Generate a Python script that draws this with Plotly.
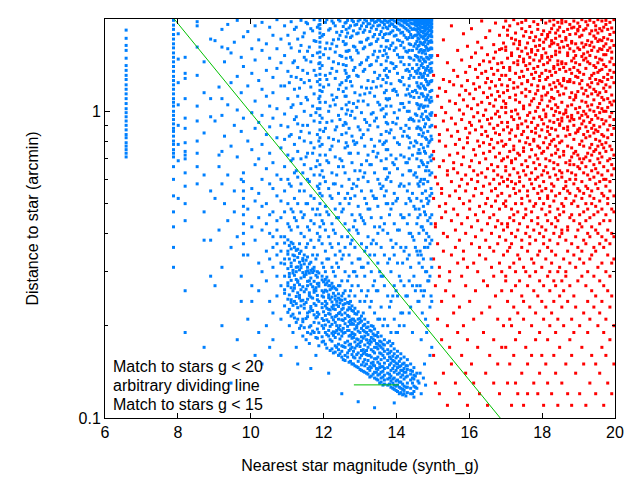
import plotly.graph_objects as go

# stars g < 20 (red): nearest-star magnitude -> distances (arcmin), column by column
red_cols = [
    (15.02, [1.31, 0.74, 0.7, 0.52, 0.33, 0.16]),
    (15.07, [0.97, 0.89, 0.61, 0.43, 0.42, 0.27, 0.13]),
    (15.13, [1.52, 1.12, 0.58, 0.37, 0.21]),
    (15.18, [1.19, 0.84, 0.8, 0.66, 0.49, 0.31, 0.29, 0.12]),
    (15.24, [1.03, 0.56, 0.54, 0.45, 0.24, 0.18]),
    (15.29, [1.71, 1.27, 0.93, 0.69, 0.4, 0.35, 0.14]),
    (15.35, [1.16, 0.99, 0.77, 0.5, 0.47, 0.26]),
    (15.4, [1.44, 0.87, 0.64, 0.62, 0.39, 0.2, 0.11]),
    (15.46, [1.25, 1.08, 0.72, 0.53, 0.3, 0.28, 0.17]),
    (15.51, [1.9, 0.95, 0.83, 0.59, 0.44, 0.34, 0.15]),
    (15.57, [1.36, 1.22, 0.68, 0.65, 0.48, 0.25, 0.22]),
    (15.62, [1.06, 0.91, 0.78, 0.55, 0.41, 0.36, 0.13]),
    (15.68, [1.58, 1.3, 0.86, 0.73, 0.63, 0.46, 0.32, 0.19]),
    (15.73, [1.13, 1.01, 0.81, 0.57, 0.52, 0.38, 0.23, 0.12]),
    (15.79, [1.47, 1.21, 0.94, 0.67, 0.6, 0.43, 0.29, 0.16]),
    (15.84, [1.79, 1.09, 0.98, 0.76, 0.71, 0.5, 0.35, 0.33, 0.2]),
    (15.9, [1.34, 1.17, 0.88, 0.62, 0.55, 0.4, 0.27, 0.14]),
    (15.95, [1.63, 1.26, 1.04, 0.82, 0.79, 0.58, 0.45, 0.31, 0.18, 0.11]),
    (16.01, [1.4, 1.14, 0.92, 0.85, 0.66, 0.51, 0.48, 0.24]),
    (16.06, [1.86, 1.5, 1.02, 0.9, 0.69, 0.6, 0.42, 0.37, 0.15]),
    (16.12, [1.23, 1.1, 0.96, 0.75, 0.64, 0.53, 0.32, 0.21, 0.13]),
    (16.17, [1.55, 1.37, 1.18, 0.87, 0.72, 0.56, 0.46, 0.39, 0.26]),
    (16.23, [1.68, 1.29, 1.05, 0.99, 0.8, 0.62, 0.59, 0.44, 0.3, 0.17]),
    (16.28, [1.42, 1.2, 0.93, 0.77, 0.68, 0.49, 0.36, 0.34, 0.12]),
    (16.34, [1.97, 1.61, 1.33, 1.07, 0.89, 0.84, 0.63, 0.54, 0.41, 0.22]),
    (16.39, [1.46, 1.15, 0.97, 0.79, 0.73, 0.57, 0.47, 0.28, 0.19]),
    (16.45, [1.74, 1.35, 1.24, 1.01, 0.86, 0.7, 0.61, 0.5, 0.38, 0.33, 0.14]),
    (16.5, [1.53, 1.28, 1.11, 0.94, 0.83, 0.65, 0.52, 0.43, 0.27, 0.11]),
    (16.56, [1.83, 1.45, 1.19, 1.06, 0.91, 0.78, 0.74, 0.58, 0.45, 0.36, 0.23, 0.16]),
    (16.61, [1.38, 1.25, 1.13, 0.95, 0.81, 0.67, 0.55, 0.49, 0.4, 0.31]),
    (16.67, [1.65, 1.49, 1.32, 1.04, 0.88, 0.76, 0.64, 0.6, 0.46, 0.35, 0.29, 0.18, 0.13]),
    (16.72, [1.94, 1.56, 1.21, 1.09, 0.98, 0.85, 0.71, 0.56, 0.51, 0.42, 0.25]),
    (16.78, [1.43, 1.36, 1.16, 1.0, 0.9, 0.79, 0.66, 0.62, 0.53, 0.44, 0.37, 0.21, 0.15]),
    (16.83, [1.77, 1.59, 1.27, 1.12, 0.96, 0.84, 0.73, 0.58, 0.48, 0.39, 0.32, 0.12]),
    (16.89, [1.6, 1.44, 1.31, 1.22, 1.03, 0.92, 0.8, 0.69, 0.61, 0.54, 0.43, 0.3, 0.26, 0.17]),
    (16.94, [1.88, 1.67, 1.39, 1.15, 1.08, 0.87, 0.77, 0.7, 0.59, 0.5, 0.41, 0.34, 0.2]),
    (17.0, [1.97, 1.62, 1.58, 1.31, 1.06, 1.03, 0.99, 0.78, 0.66, 0.64, 0.51, 0.49, 0.38, 0.29, 0.28, 0.17]),
    (17.05, [1.84, 1.77, 1.49, 1.21, 1.17, 0.92, 0.89, 0.71, 0.6, 0.57, 0.43, 0.42, 0.35, 0.24, 0.13]),
    (17.11, [1.9, 1.39, 1.36, 1.27, 1.11, 0.85, 0.81, 0.74, 0.62, 0.53, 0.45, 0.36, 0.31, 0.21, 0.15]),
    (17.16, [1.73, 1.55, 1.52, 1.0, 0.96, 0.87, 0.69, 0.68, 0.59, 0.48, 0.4, 0.37, 0.26, 0.2, 0.11]),
    (17.22, [1.99, 1.66, 1.44, 1.24, 1.19, 0.94, 0.77, 0.75, 0.65, 0.56, 0.46, 0.44, 0.32, 0.23, 0.16]),
    (17.27, [1.8, 1.71, 1.33, 1.13, 1.09, 1.01, 0.83, 0.7, 0.58, 0.54, 0.5, 0.39, 0.3, 0.27, 0.18, 0.13]),
    (17.33, [1.93, 1.6, 1.46, 1.42, 1.2, 0.98, 0.9, 0.88, 0.73, 0.63, 0.47, 0.41, 0.34, 0.22, 0.12]),
    (17.38, [1.69, 1.65, 1.51, 1.29, 1.07, 0.95, 0.8, 0.72, 0.61, 0.59, 0.55, 0.43, 0.33, 0.28, 0.19]),
    (17.44, [1.95, 1.86, 1.57, 1.35, 1.23, 1.15, 0.91, 0.84, 0.67, 0.52, 0.5, 0.38, 0.36, 0.25, 0.14]),
    (17.49, [1.76, 1.48, 1.45, 1.3, 1.04, 1.02, 0.86, 0.76, 0.74, 0.64, 0.57, 0.45, 0.31, 0.24, 0.21, 0.11]),
    (17.55, [1.98, 1.82, 1.61, 1.41, 1.18, 1.12, 0.93, 0.79, 0.69, 0.62, 0.48, 0.46, 0.4, 0.3, 0.17]),
    (17.6, [1.67, 1.54, 1.37, 1.26, 1.25, 0.97, 0.89, 0.82, 0.66, 0.55, 0.53, 0.42, 0.35, 0.27, 0.15, 0.12]),
    (17.66, [1.89, 1.74, 1.5, 1.43, 1.16, 1.05, 0.99, 0.78, 0.71, 0.6, 0.51, 0.39, 0.37, 0.29, 0.23]),
    (17.71, [1.81, 1.59, 1.56, 1.32, 1.22, 1.08, 0.92, 0.86, 0.75, 0.63, 0.58, 0.47, 0.44, 0.33, 0.2, 0.16]),
    (17.77, [1.96, 1.7, 1.47, 1.38, 1.28, 1.1, 0.95, 0.81, 0.8, 0.68, 0.56, 0.49, 0.41, 0.32, 0.26, 0.13]),
    (17.82, [1.75, 1.63, 1.53, 1.34, 1.14, 1.0, 0.88, 0.85, 0.72, 0.65, 0.6, 0.5, 0.38, 0.3, 0.22, 0.18]),
    (17.88, [1.92, 1.85, 1.58, 1.4, 1.21, 1.17, 1.03, 0.9, 0.77, 0.7, 0.61, 0.54, 0.45, 0.43, 0.34, 0.25, 0.12]),
    (17.93, [1.71, 1.64, 1.46, 1.3, 1.26, 1.06, 0.96, 0.83, 0.76, 0.67, 0.57, 0.52, 0.4, 0.35, 0.28, 0.19, 0.14]),
    (17.99, [1.99, 1.78, 1.52, 1.49, 1.33, 1.12, 1.09, 0.94, 0.87, 0.73, 0.62, 0.55, 0.48, 0.42, 0.31, 0.24, 0.16]),
    (18.04, [1.83, 1.68, 1.6, 1.42, 1.2, 1.19, 1.01, 0.91, 0.79, 0.74, 0.64, 0.59, 0.5, 0.39, 0.37, 0.27, 0.21, 0.11]),
    (18.1, [1.94, 1.72, 1.55, 1.36, 1.27, 1.13, 0.98, 0.96, 0.82, 0.7, 0.66, 0.56, 0.46, 0.41, 0.33, 0.23, 0.15]),
    (18.15, [1.78, 1.75, 1.5, 1.44, 1.29, 1.15, 1.04, 0.89, 0.86, 0.76, 0.63, 0.53, 0.52, 0.44, 0.36, 0.29, 0.18, 0.13]),
    (18.21, [1.97, 1.81, 1.63, 1.47, 1.35, 1.22, 1.08, 0.93, 0.84, 0.78, 0.69, 0.61, 0.49, 0.47, 0.38, 0.3, 0.26, 0.2]),
    (18.26, [1.86, 1.7, 1.66, 1.51, 1.31, 1.18, 1.11, 1.02, 0.88, 0.8, 0.72, 0.58, 0.55, 0.43, 0.35, 0.32, 0.22, 0.12]),
    (18.32, [1.99, 1.91, 1.67, 1.4, 1.38, 1.24, 1.1, 0.97, 0.92, 0.81, 0.68, 0.65, 0.57, 0.51, 0.4, 0.28, 0.24, 0.16]),
    (18.37, [1.8, 1.73, 1.57, 1.53, 1.34, 1.2, 1.05, 1.0, 0.87, 0.77, 0.73, 0.62, 0.53, 0.45, 0.42, 0.34, 0.27, 0.19, 0.14]),
    (18.43, [1.95, 1.84, 1.65, 1.46, 1.42, 1.26, 1.16, 1.03, 0.94, 0.83, 0.75, 0.67, 0.6, 0.48, 0.44, 0.37, 0.3, 0.21, 0.11]),
    (18.48, [1.88, 1.76, 1.61, 1.56, 1.37, 1.23, 1.13, 0.99, 0.91, 0.9, 0.79, 0.71, 0.64, 0.54, 0.46, 0.39, 0.31, 0.25, 0.17]),
    (18.54, [1.98, 1.94, 1.69, 1.45, 1.43, 1.21, 1.07, 0.95, 0.93, 0.8, 0.63, 0.61, 0.5, 0.41, 0.4, 0.28, 0.23, 0.13]),
    (18.59, [1.82, 1.62, 1.39, 1.28, 1.26, 1.14, 0.98, 0.88, 0.74, 0.72, 0.56, 0.49, 0.47, 0.33, 0.26, 0.2]),
    (18.65, [1.96, 1.74, 1.71, 1.43, 1.35, 1.19, 1.01, 0.99, 0.83, 0.68, 0.59, 0.57, 0.52, 0.38, 0.3, 0.29, 0.15]),
    (18.7, [1.85, 1.64, 1.55, 1.52, 1.25, 1.04, 0.96, 0.89, 0.87, 0.77, 0.64, 0.55, 0.42, 0.41, 0.35, 0.24, 0.12]),
    (18.76, [1.92, 1.78, 1.6, 1.37, 1.27, 1.25, 1.11, 0.93, 0.84, 0.69, 0.67, 0.6, 0.54, 0.45, 0.32, 0.27, 0.18]),
    (18.81, [1.87, 1.69, 1.67, 1.46, 1.33, 1.15, 1.05, 0.97, 0.95, 0.76, 0.71, 0.63, 0.5, 0.46, 0.37, 0.21, 0.16, 0.11]),
    (18.87, [1.97, 1.88, 1.57, 1.49, 1.39, 1.24, 1.09, 0.94, 0.9, 0.81, 0.73, 0.67, 0.58, 0.51, 0.44, 0.34, 0.25, 0.19]),
    (18.92, [1.79, 1.66, 1.52, 1.44, 1.3, 1.13, 1.11, 1.02, 0.85, 0.74, 0.62, 0.6, 0.53, 0.39, 0.31, 0.23, 0.14]),
    (18.98, [1.94, 1.85, 1.83, 1.61, 1.36, 1.29, 1.16, 0.99, 0.87, 0.86, 0.72, 0.66, 0.56, 0.49, 0.41, 0.36, 0.28]),
    (19.03, [1.89, 1.75, 1.59, 1.42, 1.34, 1.23, 1.03, 0.95, 0.88, 0.78, 0.7, 0.65, 0.55, 0.46, 0.43, 0.33, 0.2, 0.12]),
    (19.09, [1.99, 1.77, 1.67, 1.51, 1.26, 1.19, 1.08, 0.97, 0.91, 0.8, 0.68, 0.59, 0.52, 0.42, 0.35, 0.29, 0.17]),
    (19.14, [1.84, 1.62, 1.54, 1.47, 1.32, 1.14, 1.0, 0.93, 0.84, 0.77, 0.7, 0.63, 0.54, 0.47, 0.38, 0.32, 0.22, 0.15]),
    (19.2, [1.96, 1.86, 1.65, 1.49, 1.38, 1.17, 1.07, 0.98, 0.89, 0.82, 0.71, 0.66, 0.57, 0.5, 0.44, 0.37, 0.27, 0.11]),
    (19.25, [1.91, 1.7, 1.56, 1.45, 1.22, 1.12, 1.04, 0.96, 0.86, 0.73, 0.62, 0.56, 0.48, 0.4, 0.3, 0.24, 0.19]),
    (19.31, [1.98, 1.79, 1.64, 1.52, 1.43, 1.28, 1.2, 1.01, 0.92, 0.83, 0.76, 0.69, 0.6, 0.53, 0.45, 0.39, 0.33, 0.21, 0.13]),
    (19.36, [1.83, 1.68, 1.58, 1.31, 1.24, 1.14, 1.05, 0.94, 0.88, 0.78, 0.72, 0.64, 0.55, 0.5, 0.42, 0.34, 0.26, 0.16]),
    (19.42, [1.95, 1.76, 1.62, 1.41, 1.33, 1.18, 1.09, 1.0, 0.9, 0.85, 0.74, 0.67, 0.61, 0.52, 0.46, 0.36, 0.29, 0.23]),
    (19.47, [1.9, 1.84, 1.73, 1.5, 1.39, 1.27, 1.16, 0.97, 0.87, 0.81, 0.75, 0.65, 0.58, 0.49, 0.41, 0.35, 0.25, 0.15, 0.12]),
    (19.53, [1.99, 1.8, 1.69, 1.57, 1.44, 1.34, 1.23, 1.13, 1.03, 0.95, 0.86, 0.77, 0.7, 0.63, 0.56, 0.47, 0.4, 0.31, 0.2]),
    (19.58, [1.86, 1.71, 1.6, 1.48, 1.36, 1.26, 1.15, 1.06, 0.99, 0.89, 0.8, 0.73, 0.68, 0.59, 0.51, 0.43, 0.37, 0.28, 0.22, 0.14]),
    (19.64, [1.97, 1.83, 1.7, 1.59, 1.47, 1.37, 1.25, 1.11, 1.02, 0.94, 0.84, 0.78, 0.71, 0.62, 0.54, 0.48, 0.39, 0.32, 0.24, 0.17]),
    (19.69, [1.88, 1.74, 1.63, 1.53, 1.42, 1.29, 1.19, 1.09, 1.0, 0.91, 0.83, 0.76, 0.66, 0.6, 0.53, 0.44, 0.36, 0.27, 0.19, 0.11]),
    (19.75, [1.98, 1.92, 1.66, 1.53, 1.4, 1.22, 1.16, 1.0, 0.93, 0.79, 0.74, 0.6, 0.57, 0.46, 0.38, 0.3, 0.21, 0.16]),
    (19.8, [1.85, 1.72, 1.58, 1.32, 1.27, 1.1, 1.03, 0.87, 0.82, 0.69, 0.64, 0.52, 0.5, 0.41, 0.34, 0.26, 0.13]),
    (19.86, [1.95, 1.78, 1.61, 1.45, 1.36, 1.2, 1.07, 0.96, 0.9, 0.77, 0.7, 0.59, 0.55, 0.44, 0.37, 0.29, 0.23, 0.18]),
    (19.91, [1.87, 1.7, 1.56, 1.49, 1.29, 1.13, 1.05, 0.99, 0.84, 0.75, 0.67, 0.62, 0.48, 0.4, 0.32, 0.25, 0.12]),
    (19.97, [1.99, 1.81, 1.64, 1.42, 1.34, 1.24, 1.08, 0.94, 0.88, 0.72, 0.65, 0.53, 0.47, 0.39, 0.33, 0.2, 0.15]),
]

# stars g < 15 (blue): streaks and the spread above the diagonal band
blue_upper_cols = [
    (6.58, [0.71, 0.73, 0.75, 0.77, 0.79, 0.82, 0.84, 0.87, 0.9, 0.93, 0.96, 0.99, 1.02, 1.06, 1.1, 1.14,
            1.18, 1.22, 1.27, 1.31, 1.36, 1.41, 1.49, 1.58, 1.64, 1.73, 1.84]),
    (7.88, [0.31, 0.36, 0.42, 0.47, 0.53, 0.6, 0.66, 0.71, 0.73, 0.75, 0.78, 0.8, 0.83, 0.86, 0.88, 0.91,
            0.94, 0.97, 1.0, 1.04, 1.07, 1.1, 1.14, 1.18, 1.22, 1.26, 1.3, 1.35, 1.4, 1.45, 1.5, 1.55,
            1.61, 1.66, 1.72, 1.78, 1.85, 1.91, 1.98]),
    (8.01, [0.52, 0.69, 0.78, 0.9, 1.05, 1.24, 1.48, 1.79]),
    (8.2, [0.19, 0.26, 0.44, 0.5, 0.57, 0.63, 0.7, 0.72, 0.74, 0.79, 0.88, 0.95, 1.1, 1.28, 1.33, 1.5]),
    (8.53, [0.58, 0.66, 0.73, 0.8, 0.93, 1.04, 1.31, 1.62, 1.9, 1.96]),
    (8.72, [0.17, 0.38, 0.47, 0.62, 0.85, 1.15, 1.45]),
    (8.9, [0.29, 0.38, 0.55, 0.96, 1.1, 1.72]),
    (9.02, [1.7, 0.93, 0.52, 0.27]),
    (9.13, [1.2, 0.66, 0.41, 0.72]),
    (9.21, [1.85, 1.62, 1.1, 0.97, 0.74, 0.58, 0.31, 0.2]),
    (9.28, [1.45, 0.83, 0.5]),
    (9.37, [1.92, 1.05, 0.62, 0.44, 1.6]),
    (9.46, [1.55, 1.24, 0.77, 0.36, 0.13]),
    (9.55, [1.68, 0.9, 0.55, 0.47]),
    (9.63, [1.98, 1.3, 1.01, 0.71, 0.39, 0.18]),
    (9.74, [1.5, 1.15, 0.86, 0.6, 0.29, 0.24]),
    (9.8, [1.75, 1.4, 0.95, 0.63, 0.59, 0.55, 0.52, 0.49, 0.46, 0.43, 0.4, 0.37, 0.34]),
    (9.92, [1.82, 1.21, 0.8, 0.48, 0.34, 0.21]),
    (10.03, [1.6, 1.33, 0.99, 0.75, 0.56, 0.42, 0.27, 0.24]),
    (10.12, [1.9, 1.47, 1.08, 0.88, 0.67, 0.51, 0.38, 0.16]),
    (10.22, [1.71, 1.26, 0.92, 0.7, 0.54, 0.45, 0.32, 0.26, 0.19]),
    (10.31, [1.95, 1.58, 1.18, 0.97, 0.78, 0.6, 0.49, 0.41, 0.3, 0.15]),
    (10.43, [1.66, 1.36, 1.12, 0.84, 0.65, 0.5, 0.43, 0.35, 0.28, 0.2]),
    (10.52, [1.88, 1.49, 1.04, 0.89, 0.73, 0.58, 0.46, 0.4, 0.33, 0.24, 0.17]),
    (10.61, [1.77, 1.29, 1.15, 0.95, 0.68, 0.56, 0.47, 0.39, 0.36, 0.31, 0.22, 0.18]),
    (10.72, [1.99, 1.6, 1.38, 1.02, 0.82, 0.62, 0.53, 0.44, 0.41, 0.37, 0.34, 0.29, 0.25]),
    (10.83, [1.72, 1.44, 1.21, 0.9, 0.76, 0.6, 0.51, 0.45, 0.39, 0.35, 0.32, 0.27, 0.21, 0.16]),
    (10.93, [1.9, 1.52, 1.21, 0.98, 0.81, 0.66, 0.55, 0.47]),
    (11.02, [1.77, 1.35, 1.1, 0.89, 0.72, 0.6, 0.5, 0.43]),
    (11.06, [1.66, 1.24, 0.83, 0.58, 0.42]),
    (11.11, [1.96, 1.61, 1.3, 1.03, 0.84, 0.69, 0.57, 0.48, 0.41]),
    (11.16, [1.44, 1.05, 0.7, 0.47]),
    (11.2, [1.85, 1.46, 1.18, 0.94, 0.78, 0.63, 0.52, 0.45]),
    (11.25, [1.88, 1.29, 0.96, 0.64, 0.44]),
    (11.29, [1.72, 1.39, 1.12, 0.91, 0.74, 0.61, 0.5, 0.42]),
    (11.34, [1.57, 1.19, 0.82, 0.55, 0.37]),
    (11.38, [1.98, 1.64, 1.27, 1.06, 0.86, 0.7, 0.58, 0.47, 0.4]),
    (11.43, [1.75, 1.36, 0.9, 0.63, 0.45]),
    (11.47, [1.8, 1.5, 1.24, 1.0, 0.8, 0.67, 0.55, 0.46, 0.39]),
    (11.52, [1.95, 1.47, 1.11, 0.71, 0.5]),
    (11.56, [1.93, 1.57, 1.33, 1.09, 0.9, 0.73, 0.6, 0.5, 0.42, 0.37]),
    (11.61, [1.62, 1.26, 0.85, 0.59, 0.41]),
    (11.65, [1.86, 1.45, 1.2, 0.97, 0.79, 0.65, 0.53, 0.44, 0.38]),
    (11.7, [1.83, 1.52, 1.04, 0.73, 0.48]),
    (11.74, [1.99, 1.7, 1.36, 1.14, 0.93, 0.76, 0.62, 0.52, 0.43, 0.36]),
    (11.79, [1.69, 1.31, 0.99, 0.66, 0.46]),
    (11.83, [1.88, 1.55, 1.25, 1.02, 0.84, 0.69, 0.57, 0.48, 0.4, 0.34]),
    (11.87, [1.91, 1.43, 1.1, 0.8, 0.56, 0.38]),
    (11.9, [1.98, 1.92, 1.86, 1.8, 1.74, 1.68, 1.62, 1.56, 1.5, 1.44, 1.38, 1.32, 1.27, 1.22, 1.17, 1.12,
            1.07, 1.02, 0.97, 0.92, 0.87, 0.82, 0.77, 0.72, 0.67, 0.62, 0.58, 0.54, 0.5, 0.46, 0.42, 0.39]),
    (11.96, [1.76, 1.41, 1.16, 0.95, 0.78, 0.64, 0.53, 0.44, 0.37, 0.32]),
    (12.0, [1.78, 1.53, 1.2, 0.86, 0.61, 0.43]),
    (12.05, [1.95, 1.6, 1.31, 1.07, 0.88, 0.72, 0.59, 0.49, 0.41, 0.35]),
    (12.09, [1.99, 1.67, 1.27, 0.92, 0.69, 0.47, 0.33]),
    (12.14, [1.84, 1.49, 1.22, 1.0, 0.82, 0.68, 0.56, 0.46, 0.39, 0.33]),
    (12.18, [1.86, 1.6, 1.33, 1.04, 0.75, 0.53, 0.37]),
    (12.23, [1.97, 1.66, 1.38, 1.13, 0.93, 0.77, 0.63, 0.52, 0.43, 0.36, 0.31]),
    (12.27, [1.94, 1.71, 1.45, 1.09, 0.81, 0.58, 0.41, 0.3]),
    (12.32, [1.9, 1.56, 1.28, 1.05, 0.87, 0.71, 0.58, 0.48, 0.4, 0.34, 0.29]),
    (12.36, [1.81, 1.63, 1.35, 1.11, 0.89, 0.62, 0.45, 0.32]),
    (12.41, [1.99, 1.72, 1.43, 1.18, 0.97, 0.8, 0.66, 0.54, 0.45, 0.37, 0.31]),
    (12.45, [1.97, 1.77, 1.52, 1.22, 0.94, 0.7, 0.5, 0.35]),
    (12.5, [1.82, 1.51, 1.24, 1.02, 0.84, 0.69, 0.57, 0.47, 0.39, 0.33, 0.28]),
    (12.54, [1.89, 1.69, 1.42, 1.16, 0.9, 0.66, 0.48, 0.34]),
    (12.59, [1.94, 1.65, 1.36, 1.12, 0.92, 0.76, 0.63, 0.52, 0.43, 0.36, 0.3]),
    (12.62, [1.95, 1.85, 1.75, 1.66, 1.57, 1.49, 1.41, 1.33, 1.26, 1.19, 1.12, 1.05, 0.98, 0.91, 0.85, 0.79]),
    (12.66, [1.98, 1.8, 1.57, 1.29, 1.01, 0.77, 0.54, 0.39, 0.28]),
    (12.7, [1.87, 1.58, 1.3, 1.07, 0.88, 0.73, 0.6, 0.5, 0.41, 0.34, 0.29]),
    (12.74, [1.9, 1.74, 1.5, 1.25, 0.97, 0.73, 0.52, 0.37, 0.26]),
    (12.78, [1.98, 1.76, 1.47, 1.21, 1.0, 0.83, 0.68, 0.56, 0.46, 0.38, 0.32, 0.27]),
    (12.82, [1.96, 1.83, 1.63, 1.36, 1.06, 0.8, 0.58, 0.42, 0.3]),
    (12.86, [1.91, 1.62, 1.39, 1.15, 0.95, 0.78, 0.64, 0.53, 0.44, 0.36, 0.3, 0.25]),
    (12.91, [1.92, 1.79, 1.58, 1.31, 1.03, 0.79, 0.57, 0.41, 0.29]),
    (12.95, [1.97, 1.8, 1.55, 1.3, 1.08, 0.89, 0.73, 0.6, 0.49, 0.4, 0.33, 0.27]),
    (13.0, [1.99, 1.86, 1.68, 1.42, 1.13, 0.87, 0.64, 0.46, 0.33]),
    (13.04, [1.9, 1.68, 1.44, 1.2, 0.99, 0.82, 0.67, 0.55, 0.45, 0.37, 0.31, 0.26]),
    (13.09, [1.94, 1.81, 1.6, 1.35, 1.08, 0.84, 0.61, 0.44, 0.31]),
    (13.13, [1.99, 1.84, 1.62, 1.37, 1.14, 0.94, 0.77, 0.63, 0.52, 0.43, 0.35, 0.29, 0.24]),
    (13.18, [1.97, 1.89, 1.71, 1.47, 1.19, 0.92, 0.69, 0.5, 0.36, 0.25]),
    (13.22, [1.93, 1.73, 1.5, 1.26, 1.05, 0.87, 0.72, 0.59, 0.48, 0.39, 0.32, 0.26]),
    (13.27, [1.93, 1.82, 1.65, 1.41, 1.15, 0.9, 0.67, 0.48, 0.34, 0.23]),
    (13.31, [1.98, 1.87, 1.66, 1.42, 1.19, 0.98, 0.81, 0.67, 0.55, 0.45, 0.37, 0.3, 0.24]),
    (13.36, [1.99, 1.9, 1.75, 1.53, 1.25, 0.99, 0.74, 0.53, 0.38, 0.27]),
    (13.4, [1.95, 1.78, 1.57, 1.34, 1.12, 0.93, 0.77, 0.63, 0.52, 0.42, 0.34, 0.28, 0.22]),
    (13.45, [1.96, 1.85, 1.69, 1.46, 1.2, 0.95, 0.71, 0.52, 0.37, 0.26]),
    (13.49, [1.99, 1.9, 1.72, 1.5, 1.28, 1.07, 0.89, 0.73, 0.6, 0.49, 0.4, 0.32, 0.26, 0.21]),
    (13.54, [1.98, 1.91, 1.78, 1.57, 1.31, 1.05, 0.8, 0.58, 0.42, 0.3, 0.21]),
    (13.58, [1.96, 1.82, 1.63, 1.42, 1.21, 1.01, 0.84, 0.69, 0.56, 0.45, 0.36, 0.29, 0.23]),
    (13.63, [1.95, 1.87, 1.74, 1.52, 1.27, 1.02, 0.78, 0.57, 0.41, 0.29, 0.2]),
    (13.67, [1.98, 1.92, 1.78, 1.58, 1.36, 1.15, 0.96, 0.79, 0.65, 0.53, 0.43, 0.34, 0.27, 0.21]),
    (13.72, [1.97, 1.88, 1.79, 1.7, 1.62, 1.54, 1.46, 1.38, 1.31, 1.24, 1.17, 1.1, 1.04, 0.98, 0.92, 0.86,
             0.8, 0.75, 0.7, 0.65, 0.6, 0.55, 0.5]),
    (13.76, [1.95, 1.86, 1.7, 1.5, 1.29, 1.09, 0.91, 0.75, 0.61, 0.5, 0.4, 0.32, 0.25, 0.2]),
    (13.81, [1.97, 1.9, 1.79, 1.6, 1.35, 1.1, 0.85, 0.63, 0.46, 0.33, 0.23]),
    (13.85, [1.99, 1.93, 1.81, 1.64, 1.44, 1.23, 1.04, 0.87, 0.72, 0.59, 0.48, 0.38, 0.3, 0.24, 0.19]),
    (13.9, [1.99, 1.92, 1.83, 1.67, 1.43, 1.17, 0.92, 0.68, 0.5, 0.36, 0.25]),
    (13.94, [1.97, 1.89, 1.76, 1.58, 1.38, 1.18, 0.99, 0.82, 0.67, 0.54, 0.43, 0.34, 0.27, 0.21]),
    (13.99, [1.96, 1.88, 1.77, 1.61, 1.4, 1.16, 0.91, 0.7, 0.51, 0.37, 0.26, 0.19]),
    (14.03, [1.99, 1.94, 1.85, 1.71, 1.53, 1.33, 1.13, 0.95, 0.79, 0.65, 0.52, 0.41, 0.32, 0.25, 0.19]),
    (14.08, [1.99, 1.93, 1.84, 1.7, 1.5, 1.26, 1.01, 0.78, 0.57, 0.41, 0.29, 0.2]),
    (14.12, [1.98, 1.91, 1.8, 1.64, 1.45, 1.25, 1.06, 0.88, 0.72, 0.58, 0.46, 0.36, 0.28, 0.22]),
    (14.17, [1.97, 1.9, 1.81, 1.68, 1.5, 1.29, 1.06, 0.83, 0.62, 0.45, 0.32, 0.22]),
    (14.21, [1.99, 1.95, 1.88, 1.77, 1.61, 1.42, 1.22, 1.03, 0.86, 0.71, 0.57, 0.45, 0.35, 0.27, 0.2]),
    (14.26, [1.98, 1.94, 1.86, 1.74, 1.57, 1.36, 1.13, 0.9, 0.68, 0.5, 0.36, 0.25]),
    (14.3, [1.97, 1.92, 1.84, 1.72, 1.56, 1.37, 1.18, 1.0, 0.83, 0.68, 0.55, 0.43, 0.33, 0.25]),
    (14.35, [1.98, 1.9, 1.82, 1.74, 1.66, 1.58, 1.5, 1.42, 1.35, 1.28, 1.21, 1.14, 1.07, 1.0, 0.94, 0.88,
             0.82, 0.76, 0.7, 0.64, 0.58, 0.52, 0.46, 0.4, 0.34, 0.28, 0.22]),
    (14.39, [1.99, 1.94, 1.87, 1.78, 1.65, 1.49, 1.31, 1.12, 0.95, 0.79, 0.64, 0.51, 0.4, 0.31, 0.23]),
    (14.44, [1.99, 1.93, 1.85, 1.74, 1.58, 1.38, 1.16, 0.94, 0.72, 0.54, 0.39, 0.27, 0.19]),
    (14.48, [1.98, 1.93, 1.86, 1.76, 1.63, 1.47, 1.29, 1.11, 0.93, 0.77, 0.62, 0.49, 0.38, 0.29]),
    (14.52, [1.98, 1.95, 1.91, 1.85, 1.77, 1.66, 1.52, 1.35, 1.17, 0.98, 0.8, 0.63, 0.48, 0.36, 0.26, 0.137, 0.126]),
    (14.56, [1.99, 1.95, 1.9, 1.84, 1.77, 1.69, 1.6, 1.51, 1.42, 1.33, 1.24, 1.15, 1.06, 0.97, 0.88,
             0.79, 0.7, 0.61, 0.52, 0.43, 0.35, 0.27, 0.14, 0.125]),
    (14.59, [1.99, 1.96, 1.92, 1.87, 1.81, 1.73, 1.63, 1.5, 1.36, 1.21, 1.05, 0.89, 0.73, 0.58, 0.45, 0.34, 0.24, 0.132]),
    (14.62, [1.97, 1.92, 1.86, 1.79, 1.72, 1.64, 1.56, 1.47, 1.38, 1.29, 1.2, 1.11, 1.02, 0.93, 0.84,
             0.75, 0.66, 0.57, 0.48, 0.4, 0.32, 0.24, 0.13]),
    (14.65, [1.98, 1.95, 1.9, 1.84, 1.77, 1.68, 1.58, 1.46, 1.33, 1.19, 1.04, 0.88, 0.73, 0.59, 0.46, 0.35, 0.27, 0.14]),
    (14.68, [1.99, 1.94, 1.88, 1.82, 1.75, 1.67, 1.59, 1.5, 1.41, 1.32, 1.23, 1.14, 1.05, 0.96, 0.87,
             0.78, 0.69, 0.6, 0.51, 0.42, 0.34, 0.26, 0.18, 0.12]),
    (14.71, [1.99, 1.97, 1.93, 1.88, 1.82, 1.75, 1.66, 1.55, 1.43, 1.29, 1.14, 0.98, 0.83, 0.68, 0.54, 0.42, 0.31, 0.22]),
    (14.74, [1.98, 1.93, 1.87, 1.8, 1.73, 1.65, 1.57, 1.48, 1.39, 1.3, 1.21, 1.12, 1.03, 0.94, 0.85,
             0.76, 0.67, 0.58, 0.49, 0.41, 0.33, 0.25, 0.135]),
    (14.77, [1.98, 1.94, 1.89, 1.83, 1.76, 1.68, 1.58, 1.46, 1.33, 1.19, 1.04, 0.89, 0.74, 0.6, 0.47, 0.36, 0.26, 0.15]),
    (14.8, [1.99, 1.95, 1.9, 1.85, 1.78, 1.71, 1.63, 1.54, 1.45, 1.36, 1.27, 1.18, 1.09, 1.0, 0.91, 0.82,
            0.73, 0.64, 0.55, 0.46, 0.38, 0.3, 0.21, 0.128]),
    (14.83, [1.99, 1.96, 1.92, 1.86, 1.79, 1.71, 1.61, 1.5, 1.38, 1.25, 1.11, 0.96, 0.81, 0.66, 0.52, 0.4, 0.3, 0.19]),
    (14.86, [1.97, 1.92, 1.87, 1.81, 1.74, 1.66, 1.58, 1.49, 1.4, 1.31, 1.22, 1.13, 1.04, 0.95, 0.86,
             0.77, 0.68, 0.59, 0.5, 0.44, 0.36, 0.28, 0.2]),
    (14.89, [1.98, 1.95, 1.9, 1.84, 1.77, 1.69, 1.59, 1.48, 1.36, 1.23, 1.09, 0.94, 0.79, 0.64, 0.51, 0.39, 0.28]),
    (14.92, [1.99, 1.94, 1.89, 1.83, 1.76, 1.68, 1.6, 1.52, 1.43, 1.34, 1.25, 1.16, 1.07, 0.98, 0.89,
             0.8, 0.71, 0.62, 0.53, 0.45, 0.37, 0.29, 0.23, 0.16]),
    (14.95, [1.99, 1.96, 1.91, 1.85, 1.78, 1.7, 1.61, 1.5, 1.38, 1.25, 1.11, 0.97, 0.83, 0.69, 0.56, 0.43, 0.33, 0.25]),
    (14.97, [1.98, 1.93, 1.88, 1.82, 1.75, 1.68, 1.6, 1.52, 1.44, 1.35, 1.26, 1.17, 1.08, 0.99, 0.9,
             0.81, 0.72, 0.63, 0.54, 0.46, 0.38, 0.31, 0.24, 0.17]),
]

# stars g < 15 (blue): the dense band sliding from ~0.3' at g=11 to ~0.13' at g=14.5
blue_band_cols = [
    (10.93, [0.39, 0.372, 0.33, 0.318, 0.29, 0.262, 0.255, 0.232]),
    (11.02, [0.381, 0.35, 0.342, 0.307, 0.276, 0.27, 0.244, 0.221]),
    (11.06, [0.365, 0.33, 0.296, 0.289, 0.252, 0.226, 0.2]),
    (11.11, [0.374, 0.356, 0.32, 0.312, 0.281, 0.266, 0.243, 0.238, 0.215]),
    (11.16, [0.37, 0.34, 0.303, 0.297, 0.26, 0.233, 0.218, 0.19]),
    (11.2, [0.36, 0.338, 0.327, 0.292, 0.271, 0.265, 0.24, 0.212]),
    (11.25, [0.352, 0.31, 0.3, 0.283, 0.249, 0.236, 0.205, 0.17]),
    (11.29, [0.355, 0.334, 0.311, 0.28, 0.277, 0.256, 0.229, 0.21, 0.15]),
    (11.34, [0.344, 0.322, 0.304, 0.272, 0.251, 0.246, 0.22, 0.196]),
    (11.38, [0.35, 0.315, 0.309, 0.286, 0.262, 0.241, 0.232, 0.2]),
    (11.43, [0.331, 0.326, 0.298, 0.268, 0.242, 0.21, 0.206, 0.185]),
    (11.47, [0.34, 0.318, 0.292, 0.289, 0.258, 0.235, 0.228, 0.197]),
    (11.52, [0.36, 0.327, 0.3, 0.294, 0.263, 0.238, 0.211, 0.18]),
    (11.56, [0.335, 0.31, 0.302, 0.279, 0.27, 0.244, 0.22, 0.214, 0.19]),
    (11.61, [0.318, 0.297, 0.28, 0.256, 0.251, 0.222, 0.198, 0.175]),
    (11.65, [0.322, 0.303, 0.286, 0.273, 0.248, 0.231, 0.227, 0.2, 0.188, 0.145]),
    (11.7, [0.34, 0.306, 0.298, 0.268, 0.246, 0.224, 0.192]),
    (11.74, [0.31, 0.302, 0.279, 0.262, 0.257, 0.236, 0.217, 0.205, 0.19]),
    (11.79, [0.33, 0.292, 0.266, 0.26, 0.233, 0.212, 0.183, 0.16]),
    (11.83, [0.3, 0.288, 0.274, 0.251, 0.243, 0.221, 0.214, 0.195, 0.182]),
    (11.87, [0.297, 0.275, 0.269, 0.24, 0.218, 0.204, 0.19, 0.172]),
    (11.96, [0.29, 0.282, 0.26, 0.25, 0.236, 0.229, 0.211, 0.2, 0.184, 0.177]),
    (12.0, [0.31, 0.278, 0.257, 0.248, 0.222, 0.208, 0.196, 0.178]),
    (12.05, [0.3, 0.283, 0.272, 0.261, 0.24, 0.232, 0.216, 0.201, 0.19, 0.174]),
    (12.09, [0.288, 0.276, 0.259, 0.236, 0.228, 0.209, 0.187, 0.169]),
    (12.14, [0.28, 0.27, 0.252, 0.247, 0.226, 0.219, 0.206, 0.193, 0.185, 0.14]),
    (12.18, [0.27, 0.262, 0.244, 0.225, 0.218, 0.199, 0.18, 0.166]),
    (12.23, [0.275, 0.265, 0.248, 0.239, 0.23, 0.213, 0.202, 0.189, 0.178, 0.168]),
    (12.27, [0.268, 0.255, 0.233, 0.227, 0.209, 0.191, 0.186, 0.163]),
    (12.32, [0.265, 0.25, 0.244, 0.226, 0.214, 0.205, 0.19, 0.183, 0.172, 0.164]),
    (12.36, [0.262, 0.24, 0.234, 0.216, 0.2, 0.193, 0.17]),
    (12.41, [0.27, 0.254, 0.246, 0.231, 0.219, 0.21, 0.196, 0.188, 0.174, 0.167, 0.16]),
    (12.45, [0.27, 0.243, 0.237, 0.221, 0.2, 0.194, 0.181, 0.162]),
    (12.5, [0.25, 0.242, 0.226, 0.217, 0.209, 0.192, 0.185, 0.172, 0.165, 0.158, 0.12]),
    (12.54, [0.255, 0.234, 0.228, 0.208, 0.196, 0.189, 0.171, 0.155]),
    (12.59, [0.26, 0.244, 0.236, 0.22, 0.211, 0.203, 0.19, 0.176, 0.17, 0.16, 0.154]),
    (12.66, [0.238, 0.225, 0.216, 0.199, 0.193, 0.178, 0.163, 0.158]),
    (12.7, [0.25, 0.236, 0.229, 0.214, 0.206, 0.193, 0.185, 0.173, 0.166, 0.152]),
    (12.74, [0.24, 0.227, 0.208, 0.202, 0.186, 0.174, 0.168, 0.153]),
    (12.78, [0.232, 0.224, 0.21, 0.204, 0.19, 0.182, 0.17, 0.161, 0.15]),
    (12.82, [0.223, 0.21, 0.202, 0.188, 0.183, 0.165, 0.158, 0.15]),
    (12.86, [0.228, 0.219, 0.207, 0.195, 0.187, 0.177, 0.169, 0.157, 0.148]),
    (12.91, [0.218, 0.2, 0.197, 0.181, 0.172, 0.161, 0.147]),
    (12.95, [0.222, 0.21, 0.203, 0.192, 0.18, 0.174, 0.163, 0.153, 0.146, 0.113]),
    (13.0, [0.24, 0.211, 0.205, 0.19, 0.176, 0.171, 0.157, 0.144]),
    (13.04, [0.215, 0.207, 0.196, 0.184, 0.178, 0.166, 0.16, 0.149, 0.143]),
    (13.09, [0.22, 0.2, 0.193, 0.182, 0.167, 0.162, 0.152, 0.142]),
    (13.13, [0.21, 0.202, 0.191, 0.185, 0.173, 0.164, 0.155, 0.148, 0.141]),
    (13.18, [0.197, 0.19, 0.18, 0.166, 0.161, 0.15, 0.14]),
    (13.22, [0.205, 0.198, 0.187, 0.176, 0.17, 0.16, 0.154, 0.145, 0.139]),
    (13.27, [0.193, 0.179, 0.174, 0.16, 0.147, 0.143, 0.136]),
    (13.31, [0.2, 0.192, 0.183, 0.177, 0.167, 0.158, 0.151, 0.146, 0.137]),
    (13.36, [0.199, 0.188, 0.181, 0.165, 0.152, 0.149, 0.139]),
    (13.4, [0.195, 0.186, 0.179, 0.17, 0.163, 0.156, 0.148, 0.141, 0.135, 0.108]),
    (13.45, [0.186, 0.175, 0.17, 0.156, 0.145, 0.141, 0.134]),
    (13.49, [0.19, 0.184, 0.174, 0.168, 0.158, 0.152, 0.144, 0.138, 0.133]),
    (13.54, [0.178, 0.172, 0.163, 0.15, 0.146, 0.139, 0.13]),
    (13.58, [0.185, 0.177, 0.17, 0.162, 0.155, 0.147, 0.141, 0.135, 0.131]),
    (13.63, [0.174, 0.168, 0.16, 0.147, 0.142, 0.136, 0.128]),
    (13.67, [0.18, 0.173, 0.165, 0.157, 0.151, 0.145, 0.138, 0.133, 0.129]),
    (13.76, [0.176, 0.167, 0.162, 0.154, 0.146, 0.14, 0.134, 0.128]),
    (13.81, [0.178, 0.163, 0.158, 0.149, 0.139, 0.135, 0.129]),
    (13.85, [0.172, 0.165, 0.156, 0.151, 0.143, 0.137, 0.132, 0.126]),
    (13.9, [0.175, 0.159, 0.154, 0.145, 0.134, 0.13, 0.125]),
    (13.94, [0.168, 0.162, 0.153, 0.148, 0.141, 0.135, 0.128, 0.124, 0.112]),
    (13.99, [0.157, 0.151, 0.143, 0.132, 0.127, 0.123]),
    (14.03, [0.165, 0.159, 0.15, 0.146, 0.139, 0.133, 0.128, 0.122]),
    (14.08, [0.153, 0.147, 0.14, 0.131, 0.126, 0.12]),
    (14.12, [0.162, 0.156, 0.148, 0.143, 0.136, 0.131, 0.125, 0.121]),
    (14.17, [0.15, 0.143, 0.138, 0.129, 0.124, 0.119]),
    (14.21, [0.158, 0.151, 0.145, 0.141, 0.134, 0.127, 0.123, 0.12]),
    (14.26, [0.148, 0.141, 0.136, 0.126, 0.118]),
    (14.3, [0.155, 0.148, 0.144, 0.137, 0.13, 0.126, 0.121]),
    (14.39, [0.15, 0.143, 0.139, 0.133, 0.125, 0.12]),
    (14.44, [0.142, 0.135, 0.13, 0.12]),
    (14.48, [0.146, 0.138, 0.134, 0.127, 0.122, 0.117]),
]

# arbitrary dividing line (two end points)
line_mag = [7.9, 16.85]
line_dist = [2.0, 0.1]

legend_labels = ["Match to stars g < 20", "arbitrary dividing line", "Match to stars g < 15"]


def flatten(cols):
    xs, ys = [], []
    for mag, dists in cols:
        for d in dists:
            xs.append(mag)
            ys.append(d)
    return xs, ys


red_x, red_y = flatten(red_cols)
blue_x, blue_y = flatten(blue_upper_cols + blue_band_cols)

fig = go.Figure()
fig.add_trace(go.Scatter(x=red_x, y=red_y, mode='markers', name=legend_labels[0],
                         marker=dict(color='#ff0000', size=3, symbol='square', line=dict(width=0))))
fig.add_trace(go.Scatter(x=blue_x, y=blue_y, mode='markers', name=legend_labels[2],
                         marker=dict(color='#0080ff', size=3, symbol='square', line=dict(width=0))))
fig.add_trace(go.Scatter(x=line_mag, y=line_dist, mode='lines', name=legend_labels[1],
                         line=dict(color='#00c000', width=1)))

# gnuplot style key in the lower left corner
for i, lab in enumerate(legend_labels):
    fig.add_annotation(x=0.012, y=0.130 - i * 0.0475, xref='paper', yref='paper', text=lab,
                       showarrow=False, xanchor='left', yanchor='middle',
                       font=dict(size=16, color='black'))
fig.add_shape(type='line', xref='paper', yref='paper', x0=0.488, x1=0.576, y0=0.083, y1=0.083,
              line=dict(color='#00c000', width=1))

# page body has an 8px margin, so the margins are pulled in by 8px
fig.update_layout(
    width=640, height=480,
    margin=dict(l=97, r=33, t=11, b=70),
    plot_bgcolor='white', paper_bgcolor='white',
    showlegend=False,
    font=dict(family='Liberation Sans, Arial, sans-serif', size=16, color='black'),
)
fig.update_xaxes(
    range=[6, 20], tickvals=[6, 8, 10, 12, 14, 16, 18, 20],
    ticks='inside', ticklen=5, tickcolor='black', mirror='ticks',
    showline=True, linecolor='black', linewidth=1, showgrid=False, zeroline=False,
    title=dict(text='Nearest star magnitude (synth_g)', standoff=19, font=dict(size=16)),
)
fig.update_yaxes(
    type='log', range=[-1, 0.30103], tickvals=[0.1, 1], ticktext=['0.1', '1'],
    ticks='inside', ticklen=5, tickcolor='black', mirror='ticks',
    minor=dict(tickvals=[0.2, 0.3, 0.4, 0.5, 0.6, 0.7, 0.8, 0.9, 2], ticks='inside', ticklen=3,
               tickcolor='black'),
    showline=True, linecolor='black', linewidth=1, showgrid=False, zeroline=False,
    title=dict(text='Distance to star (arcmin)', standoff=35, font=dict(size=16)),
)

fig.write_html("out.html")
